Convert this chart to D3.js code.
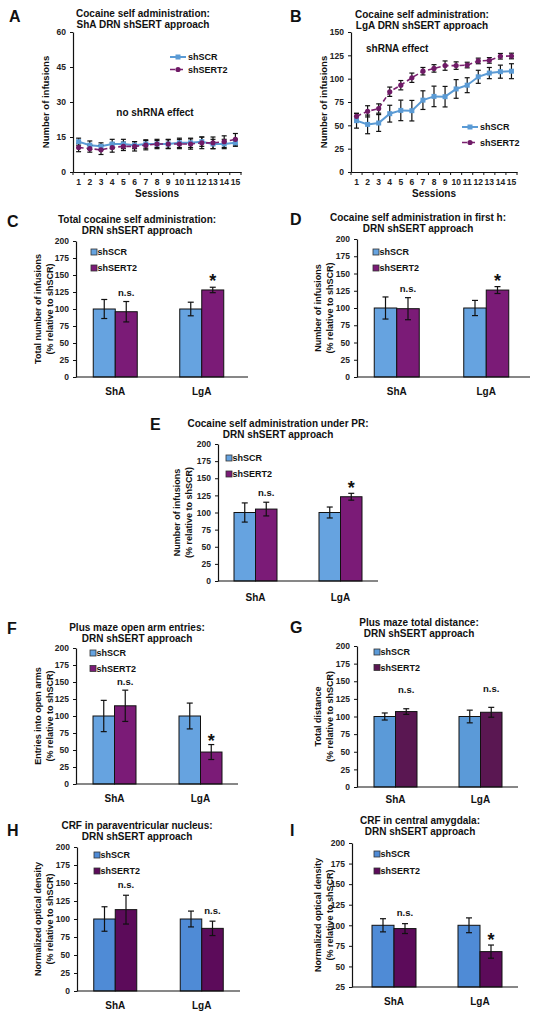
<!DOCTYPE html>
<html><head><meta charset="utf-8">
<script src="https://cdn.jsdelivr.net/npm/d3@7"></script>
<style>body{margin:0;background:#fff}svg{display:block;font-family:"Liberation Sans",Arial,sans-serif;font-weight:bold}</style>
</head><body><svg id="c" width="535" height="1018"></svg>
<script>
// ---------- DATA ----------
const sessions = [1,2,3,4,5,6,7,8,9,10,11,12,13,14,15];
const seriesNames = ["shSCR","shSERT2"];
const aSCR     = [13,11.5,11,12,12,11.5,12,12,12,12.5,12.5,13,12,12,12.5];
const aSCRerr  = [1.5,1.8,1.5,2,2,1.5,1.8,1.5,1.8,2,2,2,2,2,1.5];
const aSERT    = [10.5,10,9.5,10.5,11,11,11.5,12,12,12,12,12.5,12.5,13,14];
const aSERTerr = [1.8,1.5,2,2,1.8,2,2,2,2,2,2.2,2.5,2.5,2.5,2.5];
const bSCR     = [55,51,52.5,62.5,66,65.7,77,81,80.7,89,93,102,106,107.5,108];
const bSCRerr  = [8,10,9,9,11,11,10,11,11,10,8,7,6,7,8];
const bSERT    = [59.6,65,68,86,93,101,108,111,114,114,114.6,119,119.6,124,124.3];
const bSERTerr = [3,6,5,5,5,5,4,4,5,4,3,3,3,3,3];
const yTicksA = [0,15,30,45,60];
const yTicksB = [0,25,50,75,100,125,150];
const yTicksBar = [0,25,50,75,100,125,150,175,200];
const yTicksI = [25,50,75,100,125,150,175,200];

const groups = ["ShA","LgA"];
const cSCR=[100,100], cSCRerr=[14,10], cSERT=[96,128], cSERTerr=[15,4], cNotes=["n.s.","*"];
const dSCR=[100,100], dSCRerr=[16,11], dSERT=[99,126], dSERTerr=[16,5], dNotes=["n.s.","*"];
const eSCR=[100,100], eSCRerr=[14,8],  eSERT=[105,123], eSERTerr=[10,5], eNotes=["n.s.","*"];
const fSCR=[100,100], fSCRerr=[23,19], fSERT=[115,47], fSERTerr=[23,11], fNotes=["n.s.","*"];
const gSCR=[100,100], gSCRerr=[5,9],   gSERT=[107,106], gSERTerr=[4,7],  gNotes=["n.s.","n.s."];
const hSCR=[100,100], hSCRerr=[17,11], hSERT=[113,87], hSERTerr=[20,10], hNotes=["n.s.","n.s."];
const iSCR=[100,100], iSCRerr=[8,9],   iSERT=[96,68],  iSERTerr=[6,8],   iNotes=["n.s.","*"];

// ---------- DRAW ----------
const svg = d3.select("#c");
svg.append("rect").attr("width",535).attr("height",1018).attr("fill","#fff");

function txt(g,x,y,s,size,anchor){
  return g.append("text").attr("x",x).attr("y",y).attr("font-size",size)
    .attr("text-anchor",anchor||"middle").attr("dominant-baseline","central").attr("fill","#111").text(s);
}
function vtxt(g,x,y,s,size){
  g.append("text").attr("transform",`translate(${x},${y}) rotate(-90)`).attr("font-size",size)
   .attr("text-anchor","middle").attr("dominant-baseline","central").attr("fill","#111").text(s);
}
function yAxis(g,y,x,ticks){
  const ax = g.append("g").attr("transform",`translate(${x},0)`)
    .call(d3.axisLeft(y).tickValues(ticks).tickSize(3).tickSizeOuter(0).tickPadding(4));
  ax.select(".domain").attr("stroke","#111").attr("stroke-width",1.2);
  ax.selectAll(".tick line").attr("stroke","#111");
  ax.selectAll(".tick text").attr("font-size",8.5).attr("font-family","Liberation Sans, Arial").attr("font-weight","bold").attr("fill","#222");
}

function lineChart(L, scr, scrErr, sert, sertErr){
  const g = svg.append("g");
  const x = d3.scaleBand().domain(sessions).range([L.x0,L.x1]);
  const cx = d => x(d)+x.bandwidth()/2;
  const y = d3.scaleLinear().domain([0,L.yMax]).range([L.yBot,L.yTop]);
  yAxis(g,y,L.x0,L.ticks);
  const xa = g.append("g").attr("transform",`translate(0,${L.yBot})`)
    .call(d3.axisBottom(x).tickSize(0).tickPadding(7));
  xa.select(".domain").attr("stroke","#111").attr("stroke-width",1.2);
  xa.selectAll(".tick text").attr("font-size",8.5).attr("font-family","Liberation Sans, Arial").attr("font-weight","bold").attr("fill","#222");
  g.selectAll(null).data(sessions.concat([16])).enter().append("line")
    .attr("x1",(d,i)=>L.x0+i*x.step()).attr("x2",(d,i)=>L.x0+i*x.step())
    .attr("y1",L.yBot).attr("y2",L.yBot+3).attr("stroke","#111");
  const line = d3.line().x((d,i)=>cx(sessions[i])).y(d=>y(d));
  g.append("path").datum(scr).attr("d",line).attr("fill","none").attr("stroke","#5b9bd5").attr("stroke-width",2);
  g.append("path").datum(sert).attr("d",line).attr("fill","none").attr("stroke","#7b2170").attr("stroke-width",1.6).attr("stroke-dasharray","5,3");
  [[scr,scrErr],[sert,sertErr]].forEach(([v,e])=>{
    v.forEach((val,i)=>{
      const X=cx(sessions[i]);
      g.append("line").attr("x1",X).attr("x2",X).attr("y1",y(val-e[i])).attr("y2",y(val+e[i])).attr("stroke","#111").attr("stroke-width",1.2);
      [val-e[i],val+e[i]].forEach(t=>g.append("line").attr("x1",X-2.5).attr("x2",X+2.5).attr("y1",y(t)).attr("y2",y(t)).attr("stroke","#111").attr("stroke-width",1.2));
    });
  });
  g.selectAll(null).data(scr).enter().append("rect")
    .attr("x",(d,i)=>cx(sessions[i])-2.5).attr("y",d=>y(d)-2.5).attr("width",5).attr("height",5).attr("fill","#5b9bd5");
  g.selectAll(null).data(sert).enter().append("circle")
    .attr("cx",(d,i)=>cx(sessions[i])).attr("cy",d=>y(d)).attr("r",2.6).attr("fill","#6f1a66");
  const lg=[[seriesNames[0],"#5b9bd5",null],[seriesNames[1],"#7b2170","5,3"]];
  lg.forEach((s,k)=>{
    const ly=L.legY+k*L.legDy;
    g.append("line").attr("x1",L.legX).attr("x2",L.legX+16).attr("y1",ly).attr("y2",ly).attr("stroke",s[1]).attr("stroke-width",k?1.6:2).attr("stroke-dasharray",s[2]);
    if(k===0) g.append("rect").attr("x",L.legX+5.5).attr("y",ly-2.5).attr("width",5).attr("height",5).attr("fill",s[1]);
    else g.append("circle").attr("cx",L.legX+8).attr("cy",ly).attr("r",2.6).attr("fill","#6f1a66");
    txt(g,L.legX+18,ly,s[0],9,"start");
  });
  txt(g,L.titleX,L.titleY,L.title[0],10);
  txt(g,L.titleX,L.titleY+11,L.title[1],10);
  txt(g,L.letterX,L.letterY,L.letter,16,"start");
  vtxt(g,L.yLabX,(L.yTop+L.yBot)/2,"Number of infusions",9.5);
  txt(g,(L.x0+L.x1)/2,L.yBot+21,"Sessions",10);
  txt(g,L.noteX,L.noteY,L.note,10,L.noteAnchor);
}

lineChart({x0:73,x1:241,yTop:32,yBot:172,yMax:60,ticks:yTicksA,legX:170,legY:57,legDy:12.5,
  title:["Cocaine self administration:","ShA DRN shSERT approach"],titleX:143,titleY:13,letter:"A",letterX:9,letterY:16,
  yLabX:45,note:"no shRNA effect",noteX:155,noteY:112,noteAnchor:"middle"}, aSCR,aSCRerr,aSERT,aSERTerr);
lineChart({x0:351,x1:517,yTop:32,yBot:172,yMax:150,ticks:yTicksB,legX:462,legY:127,legDy:15.5,
  title:["Cocaine self administration:","LgA DRN shSERT approach"],titleX:422,titleY:14,letter:"B",letterX:290,letterY:16,
  yLabX:323,note:"shRNA effect",noteX:366,noteY:48,noteAnchor:"start"}, bSCR,bSCRerr,bSERT,bSERTerr);

function barChart(L, scr, scrErr, sert, sertErr, notes){
  const g = svg.append("g");
  const xg = d3.scalePoint().domain(groups).range(L.range).padding(0.5);
  const xs = d3.scaleBand().domain(seriesNames).range([-L.barW, L.barW]);
  const y = d3.scaleLinear().domain([L.yMin,200]).range([L.yBot,L.yTop]);
  const vals=[scr,sert], errs=[scrErr,sertErr], cols=[L.c1,L.c2];
  seriesNames.forEach((s,k)=>{
    groups.forEach((gname,i)=>{
      const bx = xg(gname)+xs(s);
      g.append("rect").attr("x",bx).attr("y",y(vals[k][i])).attr("width",xs.bandwidth()).attr("height",y(L.yMin)-y(vals[k][i]))
        .attr("fill",cols[k]).attr("stroke","#111").attr("stroke-width",1);
    });
  });
  seriesNames.forEach((s,k)=>{
    groups.forEach((gname,i)=>{
      const X = xg(gname)+xs(s)+xs.bandwidth()/2, v=vals[k][i], e=errs[k][i];
      g.append("line").attr("x1",X).attr("x2",X).attr("y1",y(v-e)).attr("y2",y(v+e)).attr("stroke","#111").attr("stroke-width",1.2);
      [v-e,v+e].forEach(t=>g.append("line").attr("x1",X-3).attr("x2",X+3).attr("y1",y(t)).attr("y2",y(t)).attr("stroke","#111").attr("stroke-width",1.2));
    });
  });
  groups.forEach((gname,i)=>{
    const X = xg(gname)+xs(seriesNames[1])+xs.bandwidth()/2;
    const top = y(sert[i]+sertErr[i]);
    if(notes[i]==="*"){
      g.append("text").attr("x",X).attr("y",top-L.starGap).attr("text-anchor","middle").attr("font-size",18).attr("fill","#111").text("*");
    } else {
      txt(g,X,top-L.nsGap,notes[i],9.5);
    }
  });
  yAxis(g,y,L.yAxisX,L.ticks);
  g.append("line").attr("x1",L.yAxisX).attr("x2",L.axisEnd).attr("y1",L.yBot).attr("y2",L.yBot).attr("stroke","#111").attr("stroke-width",1.2);
  groups.forEach(gname=>txt(g,xg(gname),L.xLabY,gname,10));
  seriesNames.forEach((s,k)=>{
    const ly=L.legY+k*L.legDy;
    g.append("rect").attr("x",L.legX-3).attr("y",ly-3).attr("width",6).attr("height",6).attr("fill",cols[k]).attr("stroke","#333").attr("stroke-width",0.8);
    txt(g,L.legX+3.5,ly,s,9,"start");
  });
  txt(g,L.titleX,L.titleY,L.title[0],10);
  txt(g,L.titleX,L.titleY+11,L.title[1],10);
  txt(g,L.letterX,L.letterY,L.letter,16,"start");
  const cy=(L.yTop+L.yBot)/2;
  vtxt(g,L.yLabX,cy,L.yLab[0],9);
  vtxt(g,L.yLabX+12,cy,L.yLab[1],9);
}
const light1="#66a3e0", purple1="#7b1b77";
barChart({range:[72,245],yAxisX:76,axisEnd:248,yTop:241,yBot:377,yMin:0,barW:22,ticks:yTicksBar,c1:light1,c2:purple1,
  legX:94,legY:252,legDy:16,title:["Total cocaine self administration:","DRN shSERT approach"],titleX:137,titleY:219,
  letter:"C",letterX:7,letterY:221,yLab:["Total number of infusions","(% relative to shSCR)"],yLabX:38,xLabY:391,nsGap:9,starGap:0},
  cSCR,cSCRerr,cSERT,cSERTerr,cNotes);
barChart({range:[352,531],yAxisX:357,axisEnd:530,yTop:239,yBot:377,yMin:0,barW:22.5,ticks:yTicksBar,c1:light1,c2:purple1,
  legX:376,legY:252,legDy:16,title:["Cocaine self administration in first h:","DRN shSERT approach"],titleX:418,titleY:217,
  letter:"D",letterX:290,letterY:219,yLab:["Number of infusions","(% relative to shSCR)"],yLabX:318,xLabY:391,nsGap:9,starGap:0},
  dSCR,dSCRerr,dSERT,dSERTerr,dNotes);
barChart({range:[213,383],yAxisX:218,axisEnd:378,yTop:444,yBot:581,yMin:0,barW:21.5,ticks:yTicksBar,c1:light1,c2:purple1,
  legX:229,legY:458,legDy:16,title:["Cocaine self administration under PR:","DRN shSERT approach"],titleX:278,titleY:423,
  letter:"E",letterX:150,letterY:424,yLab:["Number of infusions","(% relative to shSCR)"],yLabX:177,xLabY:597,nsGap:10,starGap:-1},
  eSCR,eSCRerr,eSERT,eSERTerr,eNotes);
barChart({range:[71.5,243.5],yAxisX:76,axisEnd:238,yTop:648,yBot:784,yMin:0,barW:21.5,ticks:yTicksBar,c1:light1,c2:purple1,
  legX:93,legY:653,legDy:15.5,title:["Plus maze open arm entries:","DRN shSERT approach"],titleX:137,titleY:627,
  letter:"F",letterX:7,letterY:628,yLab:["Entries into open arms","(% relative to shSCR)"],yLabX:38,xLabY:798,nsGap:9,starGap:-2},
  fSCR,fSCRerr,fSERT,fSERTerr,fNotes);
barChart({range:[353,523],yAxisX:357,axisEnd:518,yTop:646,yBot:787,yMin:0,barW:21.5,ticks:yTicksBar,c1:"#5b9ad8",c2:"#5a1752",
  legX:377,legY:652,legDy:15.5,title:["Plus maze total distance:","DRN shSERT approach"],titleX:419,titleY:622,
  letter:"G",letterX:290,letterY:627,yLab:["Total distance","(% relative to shSCR)"],yLabX:318,xLabY:799,nsGap:19,starGap:0},
  gSCR,gSCRerr,gSERT,gSERTerr,gNotes);
barChart({range:[72,245],yAxisX:77,axisEnd:240,yTop:847,yBot:991,yMin:0,barW:21.5,ticks:yTicksBar,c1:"#4f8bd6",c2:"#5c0b5a",
  legX:97,legY:855,legDy:16,title:["CRF in paraventricular nucleus:","DRN shSERT approach"],titleX:137,titleY:825,
  letter:"H",letterX:7,letterY:830,yLab:["Normalized optical density","(% relative to shSCR)"],yLabX:38,xLabY:1005,nsGap:11,starGap:0},
  hSCR,hSCRerr,hSERT,hSERTerr,hNotes);
barChart({range:[351,523],yAxisX:352,axisEnd:518,yTop:843,yBot:987,yMin:25,barW:22,ticks:yTicksI,c1:"#4f8bd6",c2:"#5c0b5a",
  legX:377,legY:854,legDy:17,title:["CRF in central amygdala:","DRN shSERT approach"],titleX:420,titleY:820,
  letter:"I",letterX:290,letterY:830,yLab:["Normalized optical density","(% relative to shSCR)"],yLabX:318,xLabY:1001,nsGap:11,starGap:-1},
  iSCR,iSCRerr,iSERT,iSERTerr,iNotes);
</script></body></html>
